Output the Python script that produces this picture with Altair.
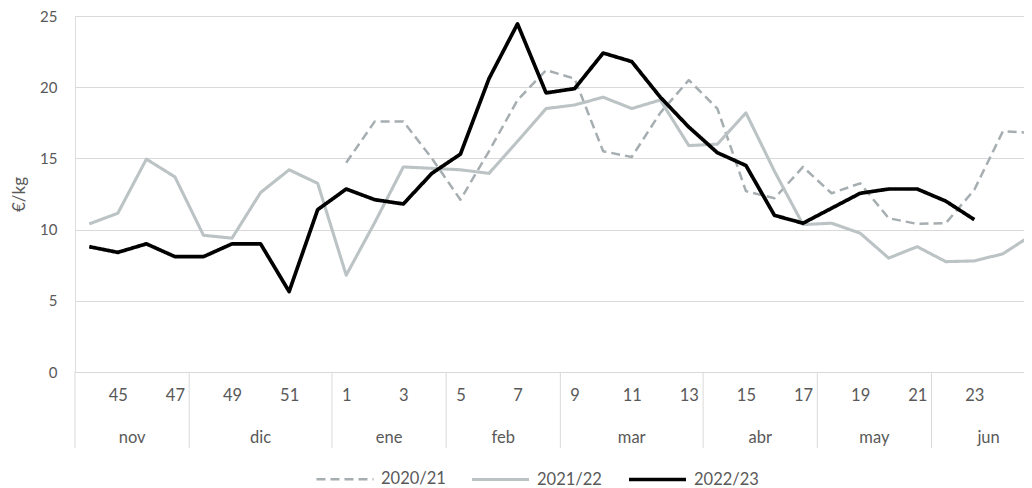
import altair as alt
import pandas as pd

weeks = [44, 45, 46, 47, 48, 49, 50, 51, 52] + list(range(1, 26))

# values (€/kg)
v2020_21_weeks = list(range(1, 26))
v2020_21 = [14.7, 17.6, 17.6, 15.0, 12.1, 15.5, 19.1, 21.2, 20.6, 15.5, 15.1, 18.2, 20.5,
            18.5, 12.7, 12.2, 14.4, 12.55, 13.25, 10.8, 10.4, 10.45, 12.8, 16.9, 16.8]

v2021_22_weeks = [44, 45, 46, 47, 48, 49, 50, 51, 52] + list(range(1, 26))
v2021_22 = [10.4, 11.15, 14.95, 13.7, 9.6, 9.4, 12.6, 14.2, 13.25,
            6.8, 10.5, 14.4, 14.3, 14.2, 13.95, 16.2, 18.5, 18.75, 19.3, 18.5, 19.1, 15.9,
            16.0, 18.2, 14.1, 10.35, 10.45, 9.75, 8.0, 8.8, 7.75, 7.8, 8.3, 9.6]

v2022_23_weeks = [44, 45, 46, 47, 48, 49, 50, 51, 52] + list(range(1, 24))
v2022_23 = [8.8, 8.4, 9.0, 8.1, 8.1, 9.0, 9.0, 5.65, 11.4,
            12.85, 12.1, 11.8, 13.95, 15.3, 20.6, 24.45, 19.6, 19.9, 22.4, 21.8, 19.3, 17.2,
            15.4, 14.5, 11.0, 10.45, 11.5, 12.55, 12.85, 12.85, 12.0, 10.7]

months = ["nov", "dic", "ene", "feb", "mar", "abr", "may", "jun"]
month_first_week = [44, 48, 1, 5, 9, 14, 18, 22]

seasons = ["2020/21", "2021/22", "2022/23"]
colors = ["#a6aeb1", "#bcc3c5", "#000000"]
dashes = [[9, 5], [1, 0], [1, 0]]
widths = [2.5, 3.7, 5.5]

pos = {w: i + 0.5 for i, w in enumerate(weeks)}

rows = []
for s, wk, vals in [("2020/21", v2020_21_weeks, v2020_21),
                    ("2021/22", v2021_22_weeks, v2021_22),
                    ("2022/23", v2022_23_weeks, v2022_23)]:
    for w, v in zip(wk, vals):
        rows.append({"season": s, "week": w, "pos": pos[w], "value": v})
df = pd.DataFrame(rows)

STEP = 28.55
W = 949
H = 356
DMAX = W / STEP
FONT = "Lato"
TXT = "#595959"
GRID = "#d9d9d9"
FS = 16.5

starts = [weeks.index(w) for w in month_first_week]
ends = starts[1:] + [len(weeks)]
mdf = pd.DataFrame({"month": months,
                    "mid": [(a + b) / 2 for a, b in zip(starts, ends)]})
sdf = pd.DataFrame({"b": [b for b in starts + [len(weeks)] if b <= DMAX]})

odd_vals = [pos[w] for w in weeks if w % 2 == 1 and pos[w] <= DMAX]
label_arr = "[" + ",".join("'%d'" % w for w in weeks) + "]"

xscale = alt.Scale(domain=[0, DMAX], nice=False, zero=False)

lines = alt.Chart(df).mark_line(strokeJoin="round", strokeCap="butt", clip=True).encode(
    x=alt.X("pos:Q", scale=xscale,
            axis=alt.Axis(values=odd_vals, labelExpr=label_arr + "[floor(datum.value)]",
                          title=None, grid=False, ticks=False, domain=True,
                          domainColor=GRID, domainWidth=1, labelPadding=15,
                          labelFontSize=FS, labelColor=TXT, labelFont=FONT)),
    y=alt.Y("value:Q", scale=alt.Scale(domain=[0, 25]),
            axis=alt.Axis(values=[0, 5, 10, 15, 20, 25], title="€/kg", grid=True,
                          gridColor=GRID, gridWidth=1, domain=False, ticks=False,
                          labelPadding=18, labelFontSize=15, labelColor=TXT,
                          labelFont=FONT, titleFont=FONT, titleFontSize=17,
                          titleFontWeight="normal", titleColor=TXT, titleAngle=-90,
                          titleX=-56, titleY=H / 2, titleAlign="center",
                          titleBaseline="middle")),
    color=alt.Color("season:N", scale=alt.Scale(domain=seasons, range=colors),
                    legend=alt.Legend(title=None, orient="none", direction="horizontal",
                                      legendX=240, legendY=433, symbolType="stroke",
                                      symbolSize=3250, labelFontSize=16.5,
                                      labelColor=TXT, labelFont=FONT, labelOffset=6,
                                      columnPadding=19)),
    strokeDash=alt.StrokeDash("season:N", scale=alt.Scale(domain=seasons, range=dashes),
                              legend=None),
    strokeWidth=alt.StrokeWidth("season:N", scale=alt.Scale(domain=seasons, range=widths),
                                legend=None),
    detail="season:N",
)

seps = alt.Chart(sdf).mark_rule(color=GRID, strokeWidth=1).encode(
    x=alt.X("b:Q", scale=xscale),
    y=alt.value(H), y2=alt.value(H + 76),
)

mtext = alt.Chart(mdf).mark_text(fontSize=FS, color=TXT, font=FONT,
                                 baseline="alphabetic", align="center").encode(
    x=alt.X("mid:Q", scale=xscale),
    y=alt.value(H + 71),
    text="month:N",
)

chart = alt.layer(seps, mtext, lines).properties(
    width=W, height=H,
    autosize=alt.AutoSizeParams(type="none"),
    padding={"left": 67, "top": 8, "right": 0, "bottom": 116},
).configure_view(stroke=None).configure(background="white")

chart.save("out.html", embed_options={"renderer": "svg", "actions": False})
